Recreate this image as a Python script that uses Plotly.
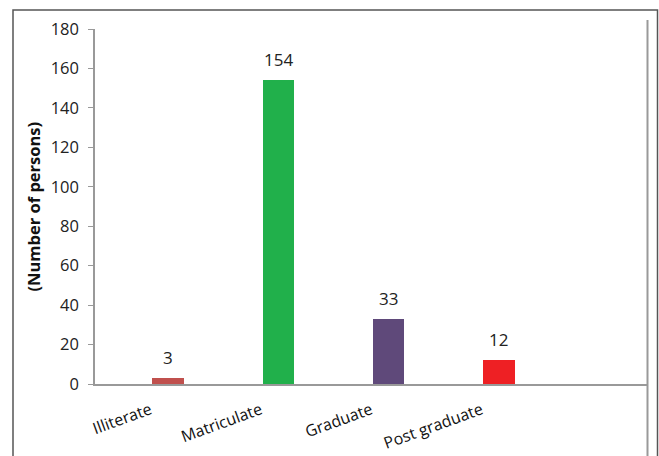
import plotly.graph_objects as go

categories = ["Illiterate", "Matriculate", "Graduate", "Post graduate"]
persons = [3, 154, 33, 12]
bar_colors = ["#C0504D", "#21B04B", "#5F497A", "#EE2024"]
y_ticks = [0, 20, 40, 60, 80, 100, 120, 140, 160, 180]

W, H = 659, 456
L, R, T, B = 95, 12, 29, 72
pw, ph = W - L - R, H - T - B

def px(x):
    return (x - L) / pw

def py(y):
    return (H - B - y) / ph

FONT = "Open Sans"

fig = go.Figure()
fig.add_trace(go.Bar(
    x=categories, y=persons,
    marker=dict(color=bar_colors, line=dict(width=0)),
    width=0.285, offset=0.018,
    showlegend=False, hoverinfo="x+y",
))

for c, v in zip(categories, persons):
    fig.add_annotation(x=c, y=v, text=str(v), showarrow=False,
                       xanchor="center", yanchor="bottom", xshift=17.5, yshift=7,
                       font=dict(family=FONT, size=17, color="#222"))

fig.add_annotation(xref="paper", yref="paper", x=px(33), y=0.5,
                   text="<b>(Number of persons)</b>", textangle=-90, showarrow=False,
                   xanchor="center", yanchor="middle",
                   font=dict(family=FONT, size=16.5, color="#111"))

# outer frame
fig.add_shape(type="rect", xref="paper", yref="paper",
              x0=px(13), x1=px(657.5), y0=py(470), y1=py(10),
              line=dict(color="#555", width=1.5), layer="below")
# right vertical rule
fig.add_shape(type="line", xref="paper", yref="paper",
              x0=px(647.5), x1=px(647.5), y0=py(456), y1=py(20),
              line=dict(color="#999", width=2))

fig.update_layout(
    width=W, height=H,
    margin=dict(l=L, r=R, t=T, b=B, autoexpand=False),
    paper_bgcolor="white", plot_bgcolor="white",
    bargap=0,
    font=dict(family=FONT, size=15, color="#222"),
    xaxis=dict(type="category", categoryorder="array", categoryarray=categories,
               range=[-0.5, 4.5], showline=True, linecolor="#999", linewidth=1.5,
               ticks="", showgrid=False, zeroline=False, tickangle=-20,
               tickfont=dict(family=FONT, size=16, color="#111"), ticklabelstandoff=9,
               fixedrange=True),
    yaxis=dict(range=[0, 180], tickvals=y_ticks, showline=True, linecolor="#999",
               linewidth=1.5, ticks="outside", ticklen=5, tickcolor="#999",
               showgrid=False, zeroline=False,
               tickfont=dict(family=FONT, size=16.5, color="#222"), ticklabelstandoff=6,
               fixedrange=True),
)

fig.write_html("out.html")
